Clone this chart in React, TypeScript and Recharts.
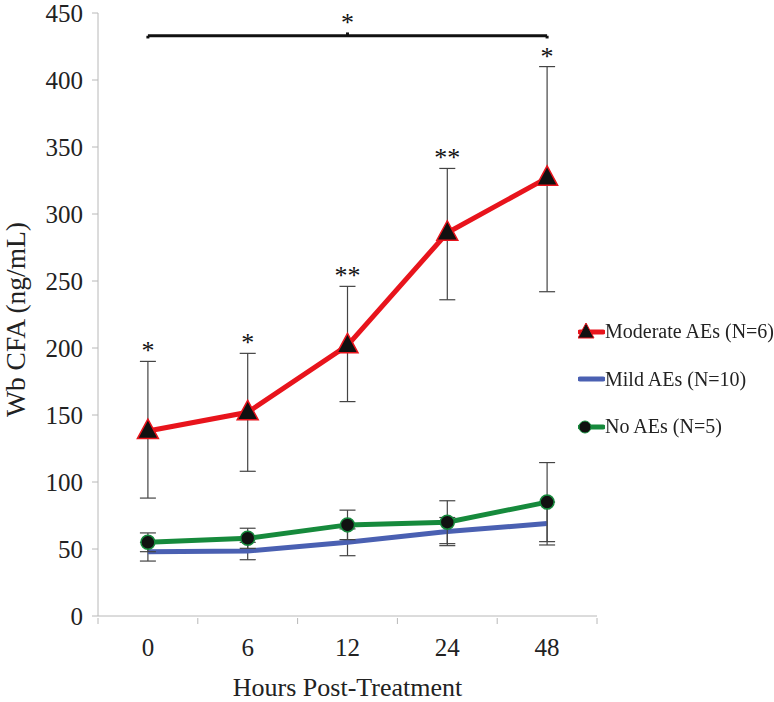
import React from "react";
import {
  LineChart,
  Line,
  XAxis,
  YAxis,
  ErrorBar,
  Legend,
  ReferenceLine,
  ReferenceDot,
} from "recharts";

const hours = ["0", "6", "12", "24", "48"];
const moderate = [138, 152, 202, 286, 327];
const moderateErrLow = [50, 44, 42, 50, 85];
const moderateErrHigh = [52, 44, 44, 48, 83];
const mild = [48, 48.5, 55, 63, 69];
const mildErr = [7, 6.5, 10, 10.5, 16];
const noAe = [55, 58, 68, 70, 85];
const noAeErr = [7, 7.5, 11, 16, 29.5];
const signif = ["*", "*", "**", "**", "*"];
const yTicks = [0, 50, 100, 150, 200, 250, 300, 350, 400, 450];
const bracketY = 433;

const FONT =
  "'Liberation Serif', 'Times New Roman', Tinos, 'Noto Serif', 'DejaVu Serif', 'Nimbus Roman', FreeSerif, Times, serif";
const RED = "#e8141c";
const BLUE = "#4a60b2";
const GREEN = "#168a3c";
const AXIS = "#b8b8b8";

const W = 774;
const H = 702;
const margin = { top: 13, right: 177, bottom: 0, left: 0 };
const yAxisW = 98;
const halfBand = (W - yAxisW - margin.right) / hours.length / 2;

const data = hours.map((h, i) => ({
  hour: h,
  moderate: moderate[i],
  moderateErr: [moderateErrLow[i], moderateErrHigh[i]],
  mild: mild[i],
  mildErr: mildErr[i],
  noAe: noAe[i],
  noAeErr: noAeErr[i],
}));

const Triangle = (props: any) => {
  const { cx, cy } = props;
  if (cx == null || cy == null) return null;
  return (
    <path
      d={`M${cx},${cy - 12} L${cx + 10.5},${cy + 7.5} L${cx - 10.5},${cy + 7.5} Z`}
      fill="#111"
      stroke={RED}
      strokeWidth={1.5}
    />
  );
};

const Dot = (props: any) => {
  const { cx, cy } = props;
  if (cx == null || cy == null) return null;
  return <circle cx={cx} cy={cy} r={7} fill="#111" stroke={GREEN} strokeWidth={1.5} />;
};

const XTick = (props: any) => {
  const { x, y, payload, index } = props;
  const axisY = y - 6;
  return (
    <g>
      <line x1={x - halfBand} x2={x - halfBand} y1={axisY} y2={axisY + 6} stroke={AXIS} />
      {index === hours.length - 1 && (
        <line x1={x + halfBand} x2={x + halfBand} y1={axisY} y2={axisY + 6} stroke={AXIS} />
      )}
      <text x={x} y={y + 14} dy="0.71em" textAnchor="middle" fill="#222" fontSize={25} fontFamily={FONT}>
        {payload.value}
      </text>
    </g>
  );
};

const legendItems = [
  { key: "moderate", label: "Moderate AEs (N=6)", color: RED },
  { key: "mild", label: "Mild AEs (N=10)", color: BLUE },
  { key: "noAe", label: "No AEs (N=5)", color: GREEN },
];

const LegendContent = () => (
  <div>
    {legendItems.map((it) => (
      <div key={it.key} style={{ height: 47.5, display: "flex", alignItems: "center" }}>
        <svg width={27} height={24} style={{ flex: "none" }}>
          <line x1={2} x2={25} y1={12} y2={12} stroke={it.color} strokeWidth={5} strokeLinecap="round" />
          {it.key === "moderate" && (
            <path d="M8,3 L16,18 L0,18 Z" fill="#111" stroke={it.color} strokeWidth={1} />
          )}
          {it.key === "noAe" && <circle cx={7} cy={12} r={6} fill="#111" stroke={it.color} />}
        </svg>
        <span style={{ fontFamily: FONT, fontSize: 20, color: "#222", whiteSpace: "nowrap" }}>
          {it.label}
        </span>
      </div>
    ))}
  </div>
);

export default function App() {
  return (
    <div style={{ position: "fixed", left: 0, top: 0, width: W, height: H, background: "#fff" }}>
      <LineChart width={W} height={H} data={data} margin={margin}>
        <XAxis
          dataKey="hour"
          scale="band"
          axisLine={{ stroke: AXIS }}
          tickLine={false}
          tick={<XTick />}
          height={86}
          interval={0}
          label={{
            content: (p: any) => {
              const vb = p.viewBox;
              return (
                <text
                  x={vb.x + vb.width / 2}
                  y={696}
                  textAnchor="middle"
                  fill="#222"
                  fontSize={26}
                  fontFamily={FONT}
                >
                  Hours Post-Treatment
                </text>
              );
            },
          }}
        />
        <YAxis
          domain={[0, 450]}
          ticks={yTicks}
          interval={0}
          width={yAxisW}
          axisLine={{ stroke: AXIS }}
          tickLine={{ stroke: AXIS }}
          tickSize={6}
          tickMargin={9}
          tick={{ fill: "#222", fontSize: 25, fontFamily: FONT }}
          label={{
            content: (p: any) => {
              const vb = p.viewBox;
              const cy = vb.y + vb.height / 2 + 5;
              return (
                <text
                  x={15}
                  y={cy}
                  transform={`rotate(-90 15 ${cy})`}
                  textAnchor="middle"
                  dominantBaseline="central"
                  fill="#222"
                  fontSize={27.5}
                  fontFamily={FONT}
                >
                  Wb CFA (ng/mL)
                </text>
              );
            },
          }}
        />
        <Legend
          layout="vertical"
          align="center"
          verticalAlign="middle"
          content={<LegendContent />}
          wrapperStyle={{ left: 578, top: 308, width: 196 }}
        />
        <Line
          dataKey="mild"
          name="Mild AEs (N=10)"
          stroke={BLUE}
          strokeWidth={5}
          dot={false}
          activeDot={false}
          isAnimationActive={false}
        >
          <ErrorBar dataKey="mildErr" width={8} stroke="#444" strokeWidth={1.2} />
        </Line>
        <Line
          dataKey="noAe"
          name="No AEs (N=5)"
          stroke={GREEN}
          strokeWidth={5}
          dot={<Dot />}
          activeDot={false}
          isAnimationActive={false}
        >
          <ErrorBar dataKey="noAeErr" width={8} stroke="#444" strokeWidth={1.2} />
        </Line>
        <Line
          dataKey="moderate"
          name="Moderate AEs (N=6)"
          stroke={RED}
          strokeWidth={5}
          dot={<Triangle />}
          activeDot={false}
          isAnimationActive={false}
        >
          <ErrorBar dataKey="moderateErr" width={8} stroke="#444" strokeWidth={1.2} />
        </Line>
        {hours.map((h, i) => (
          <ReferenceDot
            key={h}
            x={h}
            y={moderate[i] + moderateErrHigh[i]}
            r={0}
            stroke="none"
            label={{ value: signif[i], position: "top", offset: 2, fill: "#111", fontSize: 26, fontFamily: FONT }}
          />
        ))}
        <ReferenceLine
          segment={[
            { x: hours[0], y: bracketY },
            { x: hours[hours.length - 1], y: bracketY },
          ]}
          stroke="#111"
          strokeWidth={3}
        />
        <ReferenceLine
          segment={[
            { x: hours[0], y: bracketY },
            { x: hours[0], y: bracketY - 2 },
          ]}
          stroke="#111"
          strokeWidth={3}
        />
        <ReferenceLine
          segment={[
            { x: hours[hours.length - 1], y: bracketY },
            { x: hours[hours.length - 1], y: bracketY - 2 },
          ]}
          stroke="#111"
          strokeWidth={3}
        />
        <ReferenceDot
          x={hours[2]}
          y={bracketY + 2}
          r={0}
          stroke="none"
          label={{ value: "*", position: "top", offset: 2, fill: "#111", fontSize: 26, fontFamily: FONT }}
        />
        <ReferenceLine
          segment={[
            { x: hours[2], y: bracketY },
            { x: hours[2], y: bracketY + 2.5 },
          ]}
          stroke="#111"
          strokeWidth={3}
        />
      </LineChart>
    </div>
  );
}
